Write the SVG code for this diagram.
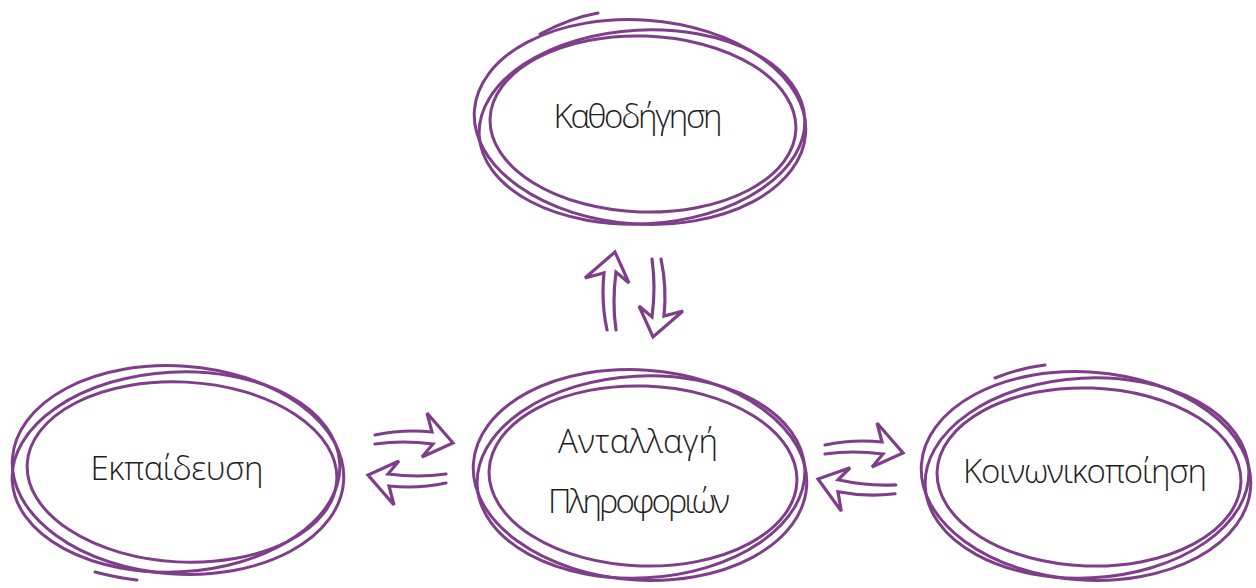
<svg xmlns="http://www.w3.org/2000/svg" width="1256" height="588" viewBox="0 0 1256 588">
<style>
.ring{fill:none;stroke:#7f3e89;stroke-width:3;stroke-linecap:round}
.arr{fill:none;stroke:#7f3e89;stroke-width:3.2;stroke-linejoin:miter;stroke-linecap:round}
.lbl{font-family:"Open Sans","Noto Sans",sans-serif;font-weight:300;font-size:33px;fill:#1e1e1e;text-anchor:middle}
</style>
<defs>
<path id="ah" d="M-78,-8 Q-50,-14 -21,-11 L-26,-30 L0,0 L-31,14 L-20,1 Q-50,-3 -78,1"/>
</defs>
<rect width="1256" height="588" fill="#ffffff"/>
<g id="node-kathodigisi">
<ellipse class="ring" cx="640" cy="122" rx="166" ry="102" transform="rotate(4 640 122)"/>
<ellipse class="ring" cx="642" cy="127" rx="163" ry="97" transform="rotate(-3 642 127)"/>
<ellipse class="ring" cx="643" cy="124" rx="153" ry="88" transform="rotate(2 643 124)"/>
<path class="ring" d="M540,34 Q570,18 598,13"/>
<text class="lbl" x="638" y="128" textLength="169" lengthAdjust="spacing">Καθοδήγηση</text>
</g>
<g id="node-ekpaidefsi">
<ellipse class="ring" cx="178" cy="470" rx="166" ry="104" transform="rotate(4 178 470)"/>
<ellipse class="ring" cx="176" cy="472" rx="164" ry="100" transform="rotate(-3 176 472)"/>
<ellipse class="ring" cx="182" cy="472" rx="155" ry="90" transform="rotate(3 182 472)"/>
<path class="ring" d="M95,572 Q118,578 137,580"/>
<text class="lbl" x="177" y="480" textLength="173" lengthAdjust="spacing">Εκπαίδευση</text>
</g>
<g id="node-antallagi">
<ellipse class="ring" cx="640" cy="475" rx="167" ry="105" transform="rotate(4 640 475)"/>
<ellipse class="ring" cx="641" cy="477" rx="164" ry="101" transform="rotate(-3 641 477)"/>
<ellipse class="ring" cx="643" cy="476" rx="154" ry="90" transform="rotate(2 643 476)"/>
<text class="lbl" x="638" y="453" textLength="160" lengthAdjust="spacing">Ανταλλαγή</text>
<text class="lbl" x="639" y="513" textLength="182" lengthAdjust="spacing">Πληροφοριών</text>
</g>
<g id="node-koinonikopoiisi">
<ellipse class="ring" cx="1086" cy="476" rx="165" ry="104" transform="rotate(4 1086 476)"/>
<ellipse class="ring" cx="1087" cy="478" rx="162" ry="100" transform="rotate(-3 1087 478)"/>
<ellipse class="ring" cx="1089" cy="477" rx="152" ry="89" transform="rotate(2 1089 477)"/>
<path class="ring" d="M995,378 Q1020,368 1045,365"/>
<text class="lbl" x="1085" y="483" textLength="244" lengthAdjust="spacing">Κοινωνικοποίηση</text>
</g>
<g id="connectors">
<use href="#ah" class="arr" transform="translate(615 252) rotate(-90)"/>
<use href="#ah" class="arr" transform="translate(653 337) rotate(90)"/>
<use href="#ah" class="arr" transform="translate(453 443)"/>
<use href="#ah" class="arr" transform="translate(368 475) rotate(180)"/>
<use href="#ah" class="arr" transform="translate(903 453)"/>
<use href="#ah" class="arr" transform="translate(818 479) rotate(185)"/>
</g>
</svg>
